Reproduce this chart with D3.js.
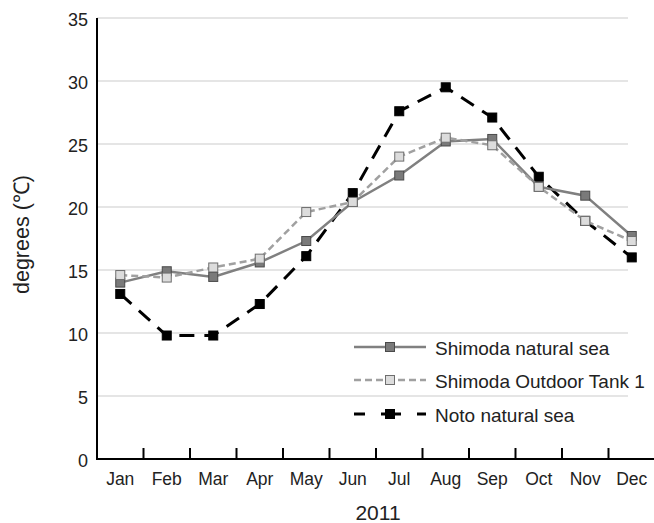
<!DOCTYPE html>
<html>
<head>
<meta charset="utf-8">
<title>Monthly water temperature 2011</title>
<script src="https://d3js.org/d3.v7.min.js"></script>
<style>
body { margin: 0; background: #fff; }
svg text { font-family: "Liberation Sans", Arial, sans-serif; fill: #222; }
</style>
</head>
<body>
<div id="chart"></div>
<script>
var months = ['Jan','Feb','Mar','Apr','May','Jun','Jul','Aug','Sep','Oct','Nov','Dec'];
var shimodaSea = [14.0, 14.9, 14.45, 15.6, 17.3, 20.4, 22.5, 25.2, 25.4, 21.6, 20.9, 17.7];
var shimodaTank = [14.6, 14.4, 15.2, 15.9, 19.6, 20.4, 24.0, 25.5, 24.9, 21.6, 18.9, 17.3];
var notoSea = [13.1, 9.8, 9.8, 12.3, 16.1, 21.1, 27.6, 29.5, 27.1, 22.4, 18.9, 16.0];
var yTicks = [0, 5, 10, 15, 20, 25, 30, 35];

var series = [
    {name: 'Noto natural sea', values: notoSea, stroke: '#000', width: 3, dash: '15,10', fill: '#000', mstroke: '#000'},
    {name: 'Shimoda natural sea', values: shimodaSea, stroke: '#808080', width: 2.5, dash: null, fill: '#7a7a7a', mstroke: '#4a4a4a'},
    {name: 'Shimoda Outdoor Tank 1', values: shimodaTank, stroke: '#a0a0a0', width: 2.5, dash: '7,4', fill: '#dcdcdc', mstroke: '#6e6e6e'}
];
var legendOrder = [1, 2, 0];

var width = 654, height = 523;
var plotLeft = 97, plotRight = 655, plotTop = 18, plotBottom = 459, gridRight = 628;

var svg = d3.select('#chart').append('svg')
    .attr('width', width)
    .attr('height', height);

var x = d3.scaleBand().domain(months).range([plotLeft, plotRight]);
var y = d3.scaleLinear().domain([0, 35]).range([plotBottom, plotTop]);

// gridlines
svg.append('g').selectAll('line')
    .data(yTicks.filter(function(d){ return d > 0; }))
    .enter().append('line')
    .attr('x1', plotLeft).attr('x2', gridRight)
    .attr('y1', function(d){ return y(d); })
    .attr('y2', function(d){ return y(d); })
    .attr('stroke', '#dcdcdc')
    .attr('stroke-width', 1.5);

// y labels
svg.append('g').selectAll('text')
    .data(yTicks)
    .enter().append('text')
    .attr('x', 88)
    .attr('y', function(d){ return y(d) + 8; })
    .attr('text-anchor', 'end')
    .style('font-size', '18px')
    .text(function(d){ return d; });

// axes
svg.append('line')
    .attr('x1', plotLeft).attr('x2', plotRight)
    .attr('y1', plotBottom).attr('y2', plotBottom)
    .attr('stroke', '#000').attr('stroke-width', 2);
svg.append('line')
    .attr('x1', plotLeft).attr('x2', plotLeft)
    .attr('y1', plotTop).attr('y2', plotBottom + 1)
    .attr('stroke', '#000').attr('stroke-width', 2);

// ticks between months
svg.append('g').selectAll('line')
    .data(months.slice(1))
    .enter().append('line')
    .attr('x1', function(d){ return x(d); })
    .attr('x2', function(d){ return x(d); })
    .attr('y1', plotBottom - 11).attr('y2', plotBottom)
    .attr('stroke', '#000').attr('stroke-width', 2);

svg.append('g').selectAll('text')
    .data(months)
    .enter().append('text')
    .attr('x', function(d){ return x(d) + x.bandwidth() / 2; })
    .attr('y', 485)
    .attr('text-anchor', 'middle')
    .style('font-size', '17.5px')
    .text(function(d){ return d; });

svg.append('text')
    .attr('x', 378)
    .attr('y', 520)
    .attr('text-anchor', 'middle')
    .style('font-size', '21px')
    .text('2011');

svg.append('text')
    .attr('transform', 'translate(29,294) rotate(-90)')
    .attr('text-anchor', 'start')
    .style('font-size', '21.5px')
    .text('degrees (\u2103)');

var line = d3.line()
    .x(function(d, i){ return x(months[i]) + x.bandwidth() / 2; })
    .y(function(d){ return y(d); });

var ms = 9;
series.forEach(function(s){
    var g = svg.append('g');
    g.append('path')
        .attr('d', line(s.values))
        .attr('fill', 'none')
        .attr('stroke', s.stroke)
        .attr('stroke-width', s.width)
        .attr('stroke-dasharray', s.dash);
    g.selectAll('rect')
        .data(s.values)
        .enter().append('rect')
        .attr('x', function(d, i){ return x(months[i]) + x.bandwidth() / 2 - ms / 2; })
        .attr('y', function(d){ return y(d) - ms / 2; })
        .attr('width', ms).attr('height', ms)
        .attr('fill', s.fill)
        .attr('stroke', s.mstroke)
        .attr('stroke-width', 1);
});

// legend
var legendY = [347, 380, 414];
var legend = svg.append('g');
legendOrder.forEach(function(idx, row){
    var s = series[idx];
    var ly = legendY[row];
    legend.append('line')
        .attr('x1', 354).attr('x2', 426)
        .attr('y1', ly).attr('y2', ly)
        .attr('stroke', s.stroke)
        .attr('stroke-width', s.width)
        .attr('stroke-dasharray', idx === 0 ? '11,16,20,16,11' : s.dash);
    legend.append('rect')
        .attr('x', 390 - ms / 2).attr('y', ly - ms / 2)
        .attr('width', ms).attr('height', ms)
        .attr('fill', s.fill)
        .attr('stroke', s.mstroke);
    legend.append('text')
        .attr('x', 435).attr('y', ly + 8)
        .style('font-size', '19px')
        .text(s.name);
});
</script>
</body>
</html>
